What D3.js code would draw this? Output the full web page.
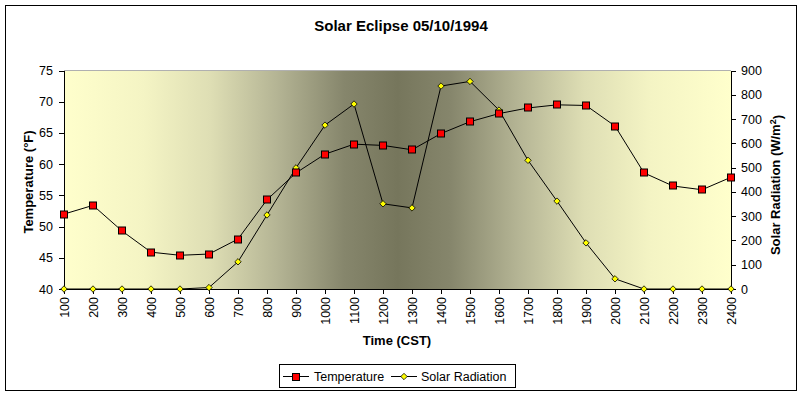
<!DOCTYPE html>
<html>
<head>
<meta charset="utf-8">
<script src="https://cdn.jsdelivr.net/npm/d3@7"></script>
<style>
  body { margin: 0; background: #fff; }
  svg { display: block; font-family: "Liberation Sans", Arial, sans-serif; }
  .axis path, .axis line { stroke: #000; shape-rendering: crispEdges; }
  .axis text { font-size: 12.5px; fill: #000; }
</style>
</head>
<body>
<script>
// chart data
var times = [100, 200, 300, 400, 500, 600, 700, 800, 900, 1000, 1100, 1200,
             1300, 1400, 1500, 1600, 1700, 1800, 1900, 2000, 2100, 2200, 2300, 2400];
var temperature = [52.0, 53.4, 49.3, 45.9, 45.4, 45.6, 48.0, 54.3, 58.6, 61.6, 63.2, 63.0,
                   62.3, 64.9, 66.8, 68.1, 69.0, 69.5, 69.4, 66.1, 58.6, 56.5, 55.9, 57.9];
var radiation = [0, 0, 0, 0, 0, 6, 112, 305, 499, 675, 762, 351,
                 334, 836, 855, 737, 530, 362, 190, 42, 0, 0, 0, 0];
var tempTicks = [40, 45, 50, 55, 60, 65, 70, 75];
var radTicks = [0, 100, 200, 300, 400, 500, 600, 700, 800, 900];

var W = 802, H = 396;
var margin = {top: 70.5, right: 71, bottom: 107, left: 64};
var width = W - margin.left - margin.right,
    height = H - margin.top - margin.bottom;

var svg = d3.select("body").append("svg")
  .attr("width", W)
  .attr("height", H);

// outer frame
svg.append("rect")
  .attr("x", 5.5).attr("y", 5.5)
  .attr("width", 791).attr("height", 385)
  .attr("fill", "#fff").attr("stroke", "#000");

// plot background gradient, light at the edges and dark in the middle
var grad = svg.append("defs").append("linearGradient")
  .attr("id", "bg").attr("x1", "0%").attr("x2", "100%");
[[0, "#ffffcc"], [0.12, "#f4f4c4"], [0.22, "#dedeb4"], [0.32, "#b4b494"],
 [0.42, "#86866c"], [0.5, "#76765c"], [0.58, "#86866c"], [0.68, "#b4b494"],
 [0.78, "#dedeb4"], [0.88, "#f4f4c4"], [1, "#ffffcc"]].forEach(function(s) {
  grad.append("stop").attr("offset", s[0]).attr("stop-color", s[1]);
});

var main = svg.append("g")
  .attr("transform", "translate(" + margin.left + "," + margin.top + ")");

main.append("rect")
  .attr("width", width).attr("height", height)
  .attr("fill", "url(#bg)");
main.append("line")
  .attr("x1", 0).attr("x2", width).attr("y1", 0).attr("y2", 0)
  .attr("stroke", "#b0b0b0").attr("shape-rendering", "crispEdges");

var x = d3.scalePoint().domain(times).range([0, width]);
var yT = d3.scaleLinear().domain([40, 75]).range([height, 0]);
var yR = d3.scaleLinear().domain([0, 900]).range([height, 0]);

// axes
main.append("g").attr("class", "axis")
  .call(d3.axisLeft(yT).tickValues(tempTicks).tickSize(5).tickPadding(6).tickSizeOuter(0));

main.append("g").attr("class", "axis")
  .attr("transform", "translate(" + width + ",0)")
  .call(d3.axisRight(yR).tickValues(radTicks).tickSize(5).tickPadding(5).tickSizeOuter(0));

var xAxis = main.append("g").attr("class", "axis")
  .attr("transform", "translate(0," + height + ")")
  .call(d3.axisBottom(x).tickSize(5).tickSizeOuter(0));
xAxis.selectAll("text")
  .attr("transform", "rotate(-90)")
  .attr("text-anchor", "end")
  .attr("x", -8).attr("y", 0).attr("dy", "0.36em");

// axis titles
svg.append("text").text("Solar Eclipse 05/10/1994")
  .attr("x", 401).attr("y", 31)
  .attr("text-anchor", "middle")
  .style("font-weight", "bold").style("font-size", "15px");

svg.append("text").text("Time (CST)")
  .attr("x", 397).attr("y", 345)
  .attr("text-anchor", "middle")
  .style("font-weight", "bold").style("font-size", "13px");

svg.append("text").text("Temperature (°F)")
  .attr("transform", "translate(33,182) rotate(-90)")
  .attr("text-anchor", "middle")
  .style("font-weight", "bold").style("font-size", "13px");

var rt = svg.append("text")
  .attr("transform", "translate(780,185) rotate(-90)")
  .attr("text-anchor", "middle")
  .style("font-weight", "bold").style("font-size", "13px");
rt.append("tspan").text("Solar Radiation (W/m");
rt.append("tspan").text("2").attr("dy", "-0.45em").style("font-size", "9px");
rt.append("tspan").text(")").attr("dy", "0.45em");

// lines
var lineT = d3.line().x(function(d, i) { return x(times[i]); }).y(function(d) { return yT(d); });
var lineR = d3.line().x(function(d, i) { return x(times[i]); }).y(function(d) { return yR(d); });

main.append("path").datum(radiation)
  .attr("d", lineR).attr("fill", "none").attr("stroke", "#000").attr("stroke-width", 1);
main.append("path").datum(temperature)
  .attr("d", lineT).attr("fill", "none").attr("stroke", "#000").attr("stroke-width", 1);

// markers
var diamond = d3.symbol().type(d3.symbolDiamond2).size(26);
main.selectAll(".rad").data(radiation).enter().append("path")
  .attr("class", "rad")
  .attr("d", diamond)
  .attr("transform", function(d, i) { return "translate(" + x(times[i]) + "," + yR(d) + ")"; })
  .attr("fill", "#ffff00").attr("stroke", "#000").attr("stroke-width", 0.8);

main.selectAll(".temp").data(temperature).enter().append("rect")
  .attr("class", "temp")
  .attr("x", function(d, i) { return Math.round(x(times[i])) - 3.5; })
  .attr("y", function(d) { return Math.round(yT(d)) - 3.5; })
  .attr("width", 7).attr("height", 7)
  .attr("fill", "#ff0000").attr("stroke", "#000").attr("stroke-width", 1);

// legend
var leg = svg.append("g");
leg.append("rect")
  .attr("x", 279.5).attr("y", 364.5).attr("width", 236).attr("height", 23)
  .attr("fill", "#fff").attr("stroke", "#000");

leg.append("line").attr("x1", 283).attr("x2", 309).attr("y1", 376.5).attr("y2", 376.5)
  .attr("stroke", "#000");
leg.append("rect").attr("x", 292.5).attr("y", 373.5).attr("width", 7).attr("height", 7)
  .attr("fill", "#ff0000").attr("stroke", "#000");
leg.append("text").text("Temperature")
  .attr("x", 314).attr("y", 381).style("font-size", "12.5px");

leg.append("line").attr("x1", 391).attr("x2", 417).attr("y1", 376.5).attr("y2", 376.5)
  .attr("stroke", "#000");
leg.append("path").attr("d", diamond)
  .attr("transform", "translate(404,376.5)")
  .attr("fill", "#ffff00").attr("stroke", "#000").attr("stroke-width", 0.8);
leg.append("text").text("Solar Radiation")
  .attr("x", 421).attr("y", 381).style("font-size", "12.5px");
</script>
</body>
</html>
